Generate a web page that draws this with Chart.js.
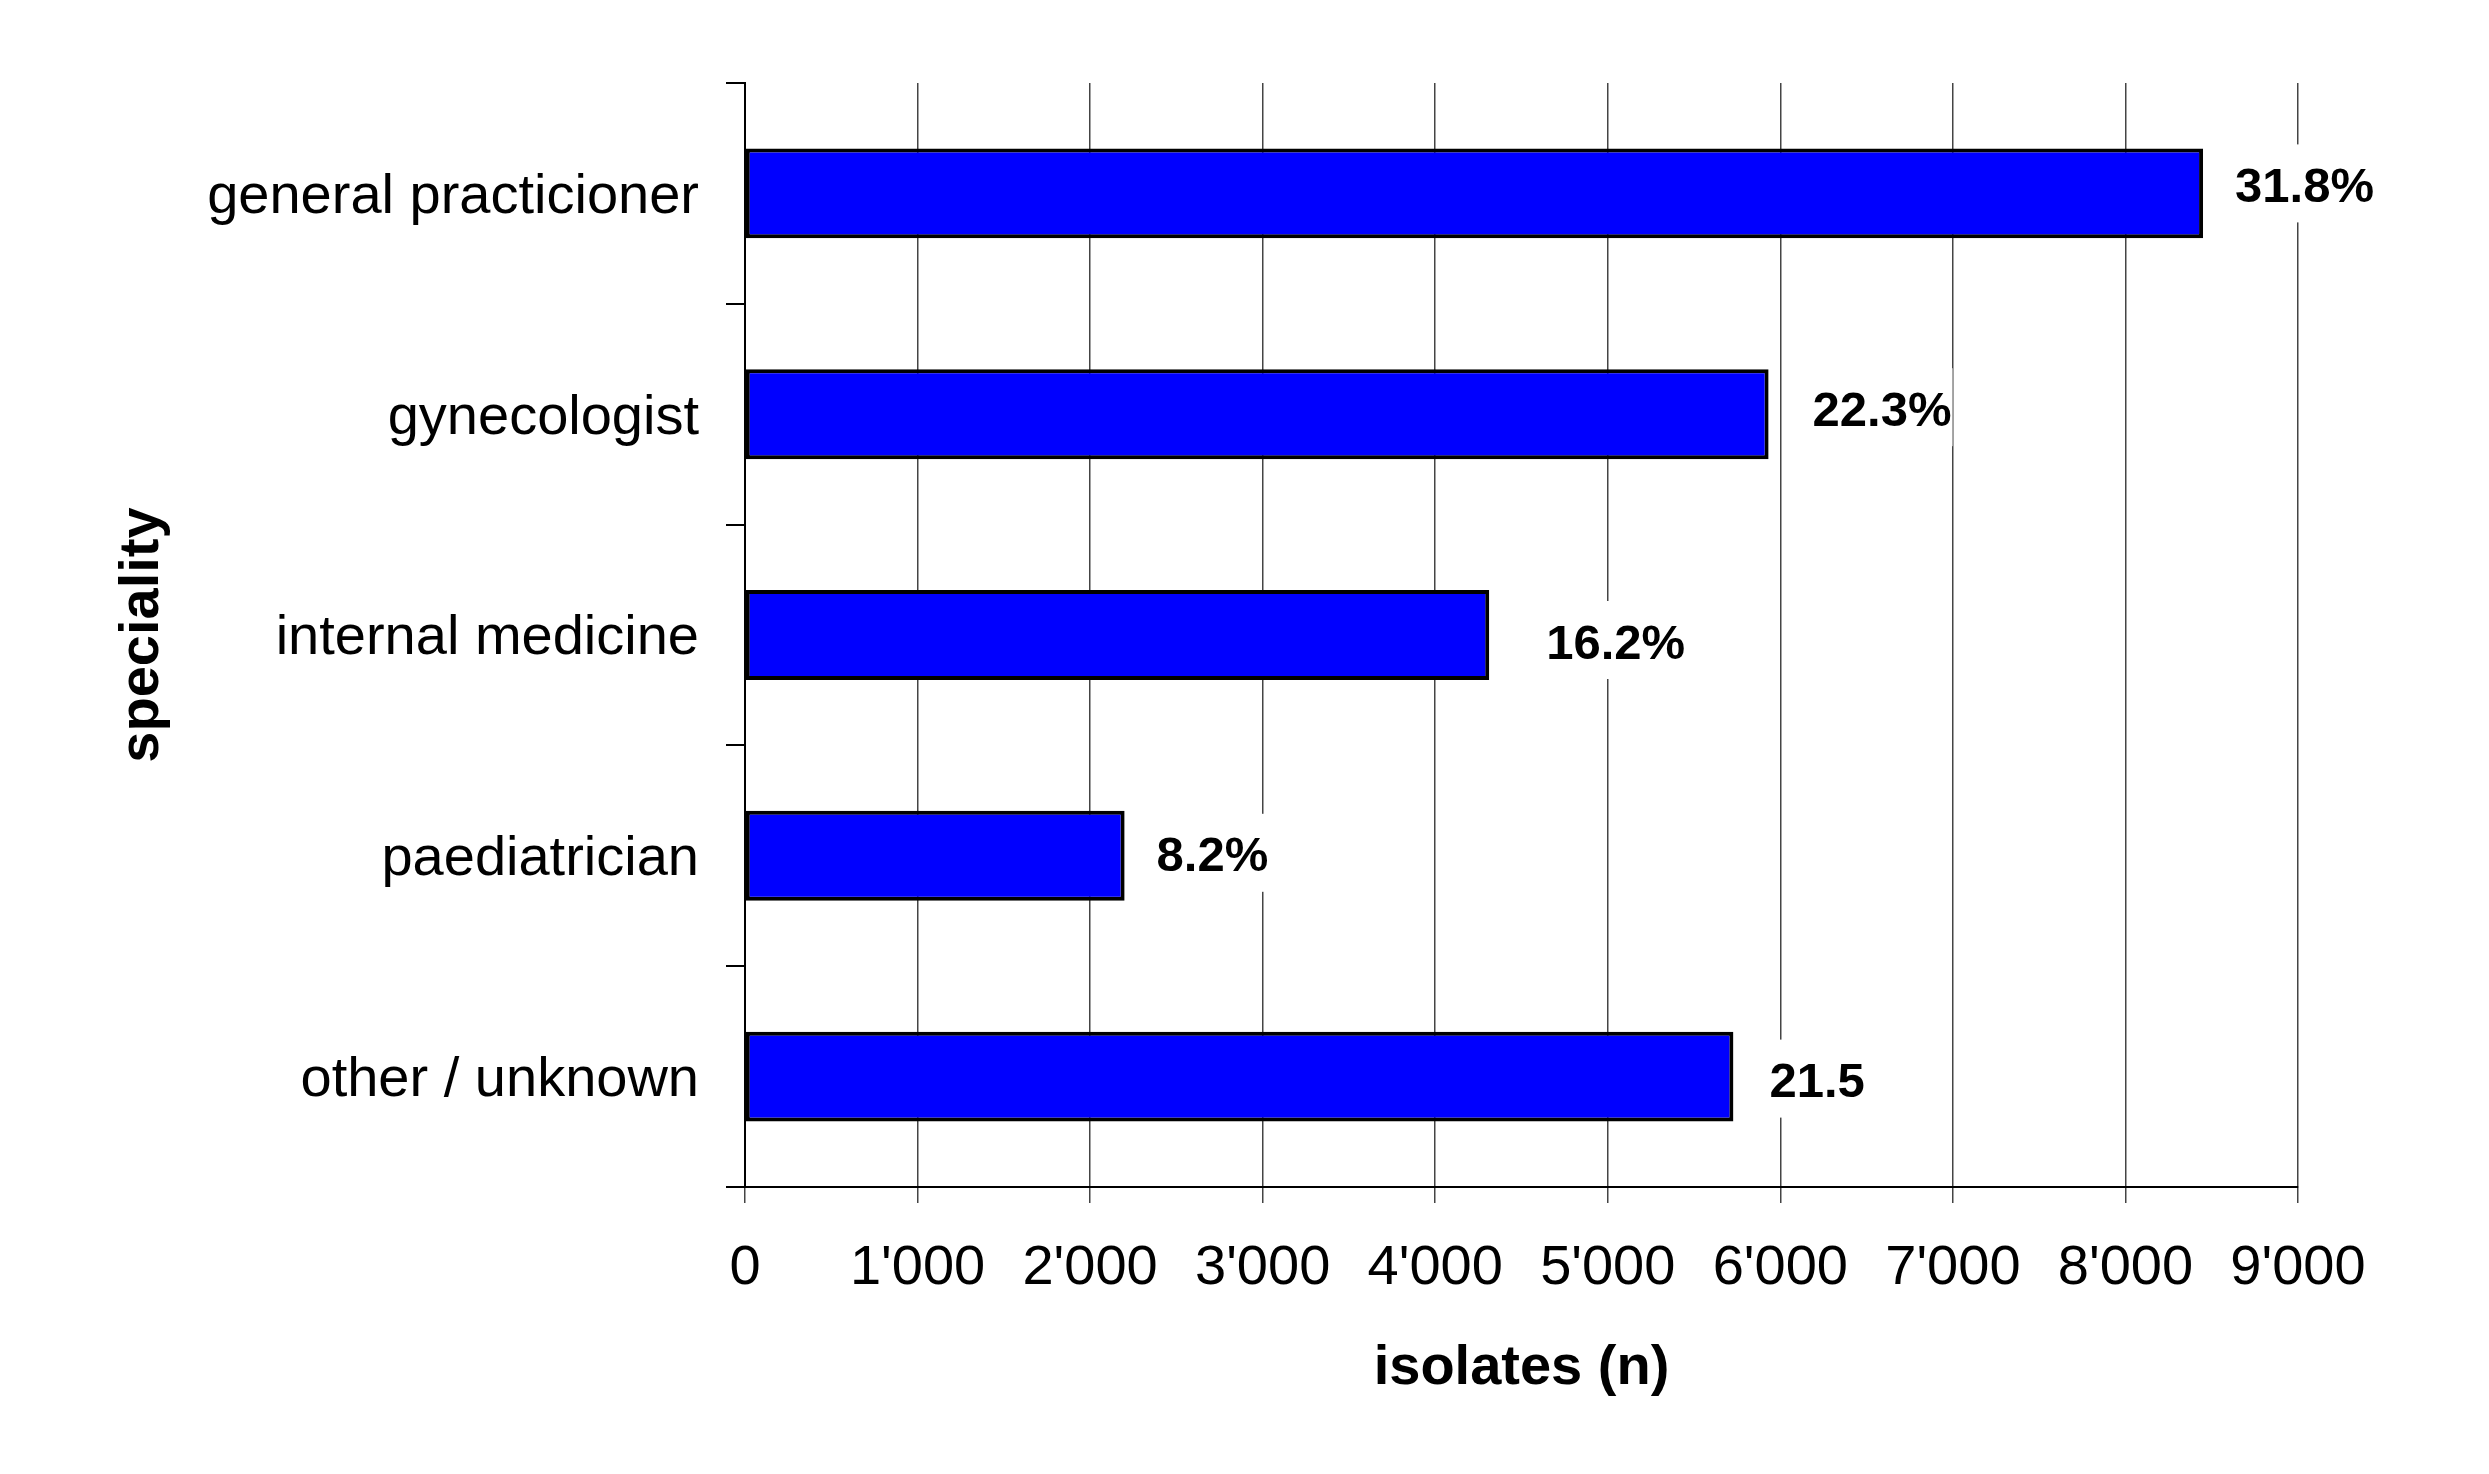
<!DOCTYPE html>
<html>
<head>
<meta charset="utf-8">
<script src="https://cdn.jsdelivr.net/npm/chart.js@4.4.1/dist/chart.umd.min.js"></script>
<style>
    body { margin: 0; background: #fff; }
    #wadah { width: 2489px; height: 1474px; position: relative; }
</style>
</head>
<body>
<div id="wadah"><canvas id="grafik"></canvas></div>
<script>
// data per spesialisasi
const kategori = ['general practicioner', 'gynecologist', 'internal medicine', 'paediatrician', 'other / unknown']
const isolat = [8450, 5932, 4313, 2200, 5728]
const labelPersen = ['31.8%', '22.3%', '16.2%', '8.2%', '21.5']
const labelSumbuX = ['0', "1'000", "2'000", "3'000", "4'000", "5'000", "6'000", "7'000", "8'000", "9'000"]

const huruf = "'Liberation Sans', Arial, sans-serif"

// geser label persen dari ujung batang [dx, dy]
const geserLabel = [[32, -10], [44, -7], [57, 5], [32, -3], [36, 2]]

// tulis label persen di kanan batang, dengan kotak putih di belakang
const pluginLabel = {
    id: 'labelPersen',
    afterDatasetsDraw(chart) {
        const ctx = chart.ctx
        const meta = chart.getDatasetMeta(0)
        ctx.save()
        ctx.font = 'bold 49px ' + huruf
        ctx.textAlign = 'left'
        ctx.textBaseline = 'middle'
        meta.data.forEach((batang, i) => {
            const teks = labelPersen[i]
            const x = batang.x + geserLabel[i][0]
            const y = batang.y + geserLabel[i][1]
            const lebar = ctx.measureText(teks).width
            ctx.fillStyle = '#fff'
            ctx.fillRect(x - 3, y - 39, lebar + 4, 78)
            ctx.fillStyle = '#000'
            ctx.fillText(teks, x, y + 5)
        })
        ctx.restore()
    }
}

const ctx = document.getElementById('grafik').getContext('2d')
const grafik = new Chart(ctx, {
    type: 'bar',
    data: {
        labels: kategori,
        datasets: [{
            data: isolat,
            backgroundColor: '#0000ff',
            borderColor: '#000',
            borderWidth: 4,
            borderSkipped: false,
            categoryPercentage: 1,
            barPercentage: 0.407
        }]
    },
    options: {
        indexAxis: 'y',
        responsive: true,
        maintainAspectRatio: false,
        devicePixelRatio: 1,
        animation: false,
        layout: { padding: { top: 83, right: 191, left: 0, bottom: 0 } },
        plugins: {
            legend: { display: false },
            tooltip: { enabled: false }
        },
        scales: {
            x: {
                min: 0,
                max: 9000,
                afterFit: (s) => { s.height = 287 },
                afterBuildTicks: (s) => {
                    s.ticks = labelSumbuX.map((t, i) => ({ value: i * 1000 }))
                },
                border: { color: '#000', width: 2 },
                grid: { color: '#444', lineWidth: 1.5, tickLength: 16 },
                ticks: {
                    color: '#000',
                    padding: 32,
                    maxRotation: 0,
                    autoSkip: false,
                    font: { family: huruf, size: 56 },
                    callback: (v) => labelSumbuX[v / 1000]
                },
                title: {
                    display: true,
                    text: 'isolates (n)',
                    color: '#000',
                    font: { family: huruf, size: 56, weight: 'bold' },
                    padding: { top: 0, bottom: 72 }
                }
            },
            y: {
                afterFit: (s) => { s.width = 745 },
                border: { color: '#000', width: 2 },
                grid: {
                    offset: true,
                    drawOnChartArea: false,
                    color: '#000',
                    lineWidth: 2,
                    tickLength: 19
                },
                ticks: {
                    color: '#000',
                    padding: 27,
                    labelOffset: 4,
                    font: { family: huruf, size: 56 }
                },
                title: {
                    display: true,
                    text: 'speciality',
                    color: '#000',
                    font: { family: huruf, size: 56, weight: 'bold' },
                    padding: { top: 109, bottom: 0 }
                }
            }
        }
    },
    plugins: [pluginLabel]
})
</script>
</body>
</html>
